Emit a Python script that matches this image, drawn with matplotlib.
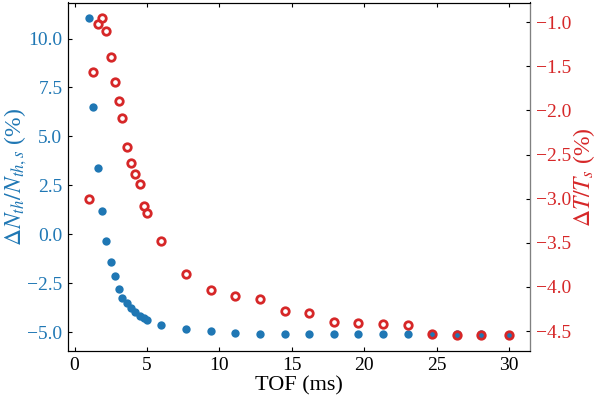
import numpy as np
from matplotlib import pyplot as plt

plt.rcParams['font.family'] = ['Liberation Serif', 'DejaVu Serif']
plt.rcParams['mathtext.fontset'] = 'stix'

# TOF values (ms)
tof = [1.0, 1.3, 1.6, 1.9, 2.2, 2.5, 2.8, 3.1, 3.3, 3.6, 3.9, 4.2, 4.5, 4.8, 5.0,
       6.0, 7.7, 9.4, 11.1, 12.8, 14.5, 16.2, 17.9, 19.6, 21.3, 23.0, 24.7, 26.4, 28.1, 30.0]

# relative atom number change (%)
dN = [11.07, 6.51, 3.37, 1.19, -0.34, -1.40, -2.16, -2.78, -3.25, -3.51, -3.78, -4.00, -4.18, -4.26, -4.41,
      -4.66, -4.87, -4.97, -5.05, -5.10, -5.10, -5.12, -5.09, -5.10, -5.12, -5.12, -5.09, -5.10, -5.12, -5.14]

# relative temperature change (%)
dT = [-3.00, -1.56, -1.02, -0.95, -1.10, -1.39, -1.68, -1.89, -2.09, -2.42, -2.60, -2.72, -2.83, -3.08, -3.16,
      -3.48, -3.85, -4.04, -4.10, -4.14, -4.27, -4.29, -4.40, -4.41, -4.42, -4.43, -4.53, -4.54, -4.54, -4.55]

blue = '#1f77b4'
red = '#d62728'

fig = plt.figure(figsize=(5.98, 3.99), dpi=100)
ax = fig.add_axes([68/598, 1-351/399, (530-68)/598, (351-2.5)/399])

ax.plot(tof, dN, 'o', color=blue, ms=6.0, mew=0)
ax.set_xlabel('TOF (ms)', fontsize=16, labelpad=2)
ax.set_ylabel(r'$\Delta N_{th}/N_{th,s}$ (%)', color=blue, fontsize=17, labelpad=-1)
ax.set_ylim(-5.97, 11.84)
ax.set_xlim(-0.45, 31.45)
ax.set_xticks([0, 5, 10, 15, 20, 25, 30])
ax.tick_params(axis='x', direction='in', top=True, length=3, labelsize=14, pad=4)
ax.tick_params(axis='y', direction='in', length=3, labelsize=14, labelcolor=blue, pad=4)

ax2 = ax.twinx()
ax2.plot(tof, dT, 'o', color=red, mfc='none', mec=red, ms=5.4, mew=2.0)
ax2.set_ylabel(r'$\Delta T/T_s$ (%)', color=red, fontsize=17, labelpad=0)
ax2.set_ylim(-4.726, -0.777)
ax2.set_yticks([-1.0, -1.5, -2.0, -2.5, -3.0, -3.5, -4.0, -4.5])
ax2.set_yticklabels(['\u22121.0', '\u22121.5', '\u22122.0', '\u22122.5', '\u22123.0', '\u22123.5', '\u22124.0', '\u22124.5'])
ax2.tick_params(axis='y', direction='in', length=3, labelsize=14, labelcolor=red, pad=4)
ax2.spines['right'].set_color('gray')

fig.savefig('out.png', dpi=100)
